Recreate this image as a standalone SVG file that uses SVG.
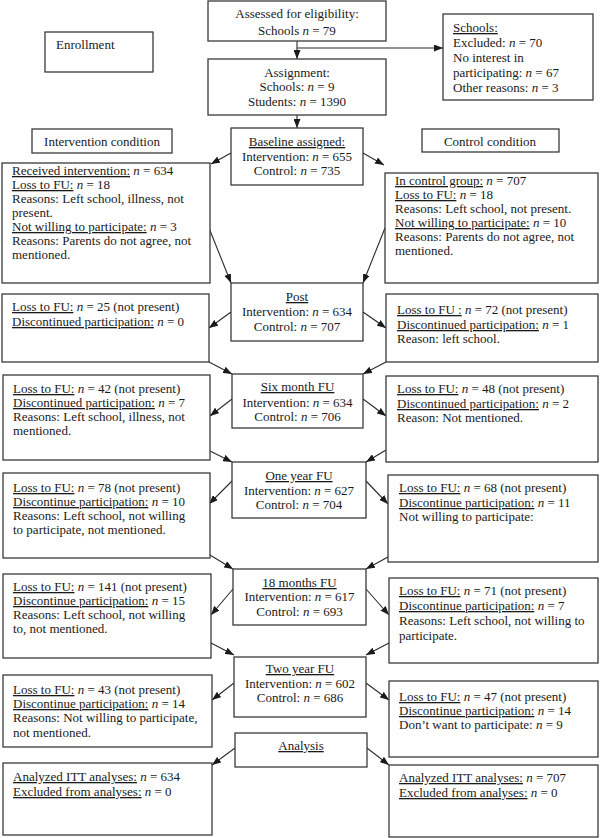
<svg xmlns="http://www.w3.org/2000/svg" width="600" height="838" viewBox="0 0 600 838">
<style>
rect{fill:#fff;stroke:#3a3a3a;stroke-width:1.3}
text{font-family:"Liberation Serif","Times New Roman","DejaVu Serif",serif;font-size:13px;fill:#1a1a1a}
.c{text-anchor:middle}
.u{text-decoration:underline}
.i{font-style:italic}
#connectors line{stroke:#2a2a2a;stroke-width:1.1;marker-end:url(#ah)}
</style>
<defs>
<marker id="ah" markerUnits="userSpaceOnUse" markerWidth="9" markerHeight="7" refX="9" refY="3.5" orient="auto">
<path d="M0,0 L9,3.5 L0,7 z" fill="#1a1a1a"/>
</marker>
</defs>
<rect x="0" y="0" width="600" height="838" style="stroke:none"/>
<g id="connectors">
<line x1="297" y1="41" x2="297" y2="59"/>
<line x1="297" y1="48" x2="443" y2="48"/>
<line x1="297" y1="115" x2="297" y2="128"/>
<line x1="231" y1="153" x2="211" y2="164"/>
<line x1="363" y1="153" x2="384" y2="165"/>
<line x1="209" y1="228" x2="231" y2="283"/>
<line x1="385" y1="228" x2="363" y2="283"/>
<line x1="231" y1="312" x2="209" y2="328"/>
<line x1="363" y1="312" x2="386" y2="328"/>
<line x1="209" y1="362" x2="232" y2="374"/>
<line x1="386" y1="362" x2="363" y2="374"/>
<line x1="232" y1="399" x2="210" y2="416"/>
<line x1="363" y1="399" x2="386" y2="416"/>
<line x1="210" y1="451" x2="232" y2="462"/>
<line x1="386" y1="450" x2="366" y2="462"/>
<line x1="232" y1="481" x2="209" y2="504"/>
<line x1="366" y1="481" x2="388" y2="504"/>
<line x1="210" y1="555" x2="233" y2="569"/>
<line x1="388" y1="557" x2="366" y2="569"/>
<line x1="233" y1="589" x2="211" y2="615"/>
<line x1="366" y1="589" x2="389" y2="615"/>
<line x1="211" y1="643" x2="234" y2="655"/>
<line x1="389" y1="643" x2="366" y2="655"/>
<line x1="234" y1="683" x2="212" y2="700"/>
<line x1="366" y1="683" x2="389" y2="700"/>
<line x1="235" y1="748" x2="212" y2="765"/>
<line x1="367" y1="748" x2="389" y2="765"/>
</g>
<g id="assessed"><rect x="208" y="1" width="178" height="40"/>
<text class="c" x="297" y="18">Assessed for eligibility:</text>
<text class="c" x="297" y="35">Schools <tspan class="i">n</tspan> = 79</text></g>
<g id="enrollment"><rect x="45" y="32" width="108" height="40"/>
<text x="56" y="49">Enrollment</text></g>
<g id="assignment"><rect x="208" y="59" width="178" height="56"/>
<text class="c" x="297" y="77">Assignment:</text>
<text class="c" x="297" y="91">Schools: <tspan class="i">n</tspan> = 9</text>
<text class="c" x="297" y="106">Students: <tspan class="i">n</tspan> = 1390</text></g>
<g id="excluded"><rect x="443" y="14" width="150" height="86"/>
<text x="453" y="32"><tspan class="u">Schools:</tspan></text>
<text x="453" y="47">Excluded: <tspan class="i">n</tspan> = 70</text>
<text x="453" y="62">No interest in</text>
<text x="453" y="77">participating: <tspan class="i">n</tspan> = 67</text>
<text x="453" y="92">Other reasons: <tspan class="i">n</tspan> = 3</text></g>
<g id="intcond"><rect x="32" y="129" width="140" height="24"/>
<text class="c" x="102" y="146">Intervention condition</text></g>
<g id="ctrlcond"><rect x="422" y="129" width="137" height="23"/>
<text class="c" x="490" y="146">Control condition</text></g>
<g id="baseline"><rect x="231" y="128" width="132" height="57"/>
<text class="c" x="297" y="146"><tspan class="u">Baseline assigned:</tspan></text>
<text class="c" x="297" y="161">Intervention: <tspan class="i">n</tspan> = 655</text>
<text class="c" x="297" y="175">Control: <tspan class="i">n</tspan> = 735</text></g>
<g id="received"><rect x="2" y="163" width="208" height="120"/>
<text x="12" y="175"><tspan class="u">Received intervention:</tspan> <tspan class="i">n</tspan> = 634</text>
<text x="12" y="189"><tspan class="u">Loss to FU:</tspan> <tspan class="i">n</tspan> = 18</text>
<text x="12" y="203">Reasons: Left school, illness, not</text>
<text x="12" y="217">present.</text>
<text x="12" y="231"><tspan class="u">Not willing to participate:</tspan> <tspan class="i">n</tspan> = 3</text>
<text x="12" y="245">Reasons: Parents do not agree, not</text>
<text x="12" y="259">mentioned.</text></g>
<g id="ctrlgroup"><rect x="385" y="173" width="213" height="110"/>
<text x="395" y="185"><tspan class="u">In control group:</tspan> <tspan class="i">n</tspan> = 707</text>
<text x="395" y="199"><tspan class="u">Loss to FU:</tspan> <tspan class="i">n</tspan> = 18</text>
<text x="395" y="213">Reasons: Left school, not present.</text>
<text x="395" y="227"><tspan class="u">Not willing to participate:</tspan> <tspan class="i">n</tspan> = 10</text>
<text x="395" y="241">Reasons: Parents do not agree, not</text>
<text x="395" y="255">mentioned.</text></g>
<g id="post"><rect x="231" y="283" width="132" height="58"/>
<text class="c" x="297" y="301"><tspan class="u">Post</tspan></text>
<text class="c" x="297" y="316">Intervention: <tspan class="i">n</tspan> = 634</text>
<text class="c" x="297" y="331">Control: <tspan class="i">n</tspan> = 707</text></g>
<g id="l1"><rect x="2" y="294" width="207" height="68"/>
<text x="12" y="311"><tspan class="u">Loss to FU:</tspan> <tspan class="i">n</tspan> = 25 (not present)</text>
<text x="12" y="326"><tspan class="u">Discontinued participation:</tspan> <tspan class="i">n</tspan> = 0</text></g>
<g id="r1"><rect x="386" y="294" width="212" height="68"/>
<text x="397" y="314"><tspan class="u">Loss to FU :</tspan> <tspan class="i">n</tspan> = 72 (not present)</text>
<text x="397" y="329"><tspan class="u">Discontinued participation:</tspan> <tspan class="i">n</tspan> = 1</text>
<text x="397" y="343">Reason: left school.</text></g>
<g id="six"><rect x="232" y="374" width="131" height="54"/>
<text class="c" x="297.5" y="391"><tspan class="u">Six month FU</tspan></text>
<text class="c" x="297.5" y="407">Intervention: <tspan class="i">n</tspan> = 634</text>
<text class="c" x="297.5" y="421">Control: <tspan class="i">n</tspan> = 706</text></g>
<g id="l2"><rect x="3" y="375" width="207" height="85"/>
<text x="13" y="393"><tspan class="u">Loss to FU:</tspan> <tspan class="i">n</tspan> = 42 (not present)</text>
<text x="13" y="407"><tspan class="u">Discontinued participation:</tspan> <tspan class="i">n</tspan> = 7</text>
<text x="13" y="421">Reasons: Left school, illness, not</text>
<text x="13" y="435">mentioned.</text></g>
<g id="r2"><rect x="386" y="376" width="212" height="86"/>
<text x="397" y="393"><tspan class="u">Loss to FU:</tspan> <tspan class="i">n</tspan> = 48 (not present)</text>
<text x="397" y="408"><tspan class="u">Discontinued participation:</tspan> <tspan class="i">n</tspan> = 2</text>
<text x="397" y="422">Reason: Not mentioned.</text></g>
<g id="oneyear"><rect x="232" y="462" width="134" height="56"/>
<text class="c" x="299" y="480"><tspan class="u">One year FU</tspan></text>
<text class="c" x="299" y="495">Intervention: <tspan class="i">n</tspan> = 627</text>
<text class="c" x="299" y="509">Control: <tspan class="i">n</tspan> = 704</text></g>
<g id="l3"><rect x="3" y="473" width="207" height="85"/>
<text x="13" y="492"><tspan class="u">Loss to FU:</tspan> <tspan class="i">n</tspan> = 78 (not present)</text>
<text x="13" y="506"><tspan class="u">Discontinue participation:</tspan> <tspan class="i">n</tspan> = 10</text>
<text x="13" y="520">Reasons: Left school, not willing</text>
<text x="13" y="534">to participate, not mentioned.</text></g>
<g id="r3"><rect x="388" y="475" width="210" height="87"/>
<text x="399" y="492"><tspan class="u">Loss to FU:</tspan> <tspan class="i">n</tspan> = 68 (not present)</text>
<text x="399" y="507"><tspan class="u">Discontinue participation:</tspan> <tspan class="i">n</tspan> = 11</text>
<text x="399" y="521">Not willing to participate:</text></g>
<g id="m18"><rect x="233" y="569" width="133" height="56"/>
<text class="c" x="299.5" y="587"><tspan class="u">18 months FU</tspan></text>
<text class="c" x="299.5" y="601">Intervention: <tspan class="i">n</tspan> = 617</text>
<text class="c" x="299.5" y="616">Control: <tspan class="i">n</tspan> = 693</text></g>
<g id="l4"><rect x="3" y="574" width="208" height="84"/>
<text x="13" y="591"><tspan class="u">Loss to FU:</tspan> <tspan class="i">n</tspan> = 141 (not present)</text>
<text x="13" y="605"><tspan class="u">Discontinue participation:</tspan> <tspan class="i">n</tspan> = 15</text>
<text x="13" y="619">Reasons: Left school, not willing</text>
<text x="13" y="633">to, not mentioned.</text></g>
<g id="r4"><rect x="389" y="578" width="209" height="85"/>
<text x="399" y="595"><tspan class="u">Loss to FU:</tspan> <tspan class="i">n</tspan> = 71 (not present)</text>
<text x="399" y="610"><tspan class="u">Discontinue participation:</tspan> <tspan class="i">n</tspan> = 7</text>
<text x="399" y="625">Reasons: Left school, not willing to</text>
<text x="399" y="640">participate.</text></g>
<g id="twoyear"><rect x="234" y="657" width="132" height="60"/>
<text class="c" x="300" y="673"><tspan class="u">Two year FU</tspan></text>
<text class="c" x="300" y="688">Intervention: <tspan class="i">n</tspan> = 602</text>
<text class="c" x="300" y="702">Control: <tspan class="i">n</tspan> = 686</text></g>
<g id="l5"><rect x="3" y="675" width="209" height="72"/>
<text x="13" y="694"><tspan class="u">Loss to FU:</tspan> <tspan class="i">n</tspan> = 43 (not present)</text>
<text x="13" y="708"><tspan class="u">Discontinue participation:</tspan> <tspan class="i">n</tspan> = 14</text>
<text x="13" y="722">Reasons: Not willing to participate,</text>
<text x="13" y="737">not mentioned.</text></g>
<g id="r5"><rect x="389" y="681" width="209" height="76"/>
<text x="399" y="701"><tspan class="u">Loss to FU:</tspan> <tspan class="i">n</tspan> = 47 (not present)</text>
<text x="399" y="715"><tspan class="u">Discontinue participation:</tspan> <tspan class="i">n</tspan> = 14</text>
<text x="399" y="729">Don’t want to participate: <tspan class="i">n</tspan> = 9</text></g>
<g id="analysis"><rect x="235" y="733" width="132" height="34"/>
<text class="c" x="301" y="750"><tspan class="u">Analysis</tspan></text></g>
<g id="l6"><rect x="3" y="763" width="209" height="72"/>
<text x="13" y="781"><tspan class="u">Analyzed ITT analyses:</tspan> <tspan class="i">n</tspan> = 634</text>
<text x="13" y="796"><tspan class="u">Excluded from analyses:</tspan> <tspan class="i">n</tspan> = 0</text></g>
<g id="r6"><rect x="389" y="765" width="209" height="72"/>
<text x="399" y="782"><tspan class="u">Analyzed ITT analyses:</tspan> <tspan class="i">n</tspan> = 707</text>
<text x="399" y="797"><tspan class="u">Excluded from analyses:</tspan> <tspan class="i">n</tspan> = 0</text></g>
</svg>
